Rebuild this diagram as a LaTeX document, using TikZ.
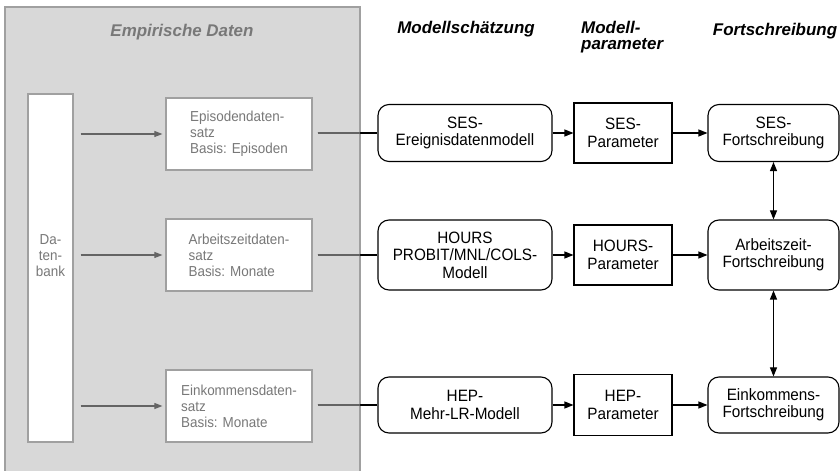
\documentclass[tikz,border=0pt]{standalone}
\usepackage{fontspec}
\setmainfont{Liberation Sans}
\newfontfamily\narrowfont{Liberation Sans}[FakeStretch=0.93]
\usetikzlibrary{arrows.meta,calc}
\definecolor{panelfill}{RGB}{216,216,216}
\definecolor{panelline}{RGB}{160,160,160}
\definecolor{grtext}{RGB}{120,120,120}
\definecolor{grline}{RGB}{100,100,100}
\begin{document}
\begin{tikzpicture}[x=1bp,y=-1bp,
 txt/.style={font=\narrowfont\fontsize{16.5}{17.5}\selectfont, align=center, inner sep=0pt},
 model/.style={txt, draw, line width=1.1bp, rounded corners=11bp, minimum width=174bp},
 param/.style={txt, draw, line width=1.1bp, minimum width=98bp, minimum height=60bp},
 fort/.style={model, minimum width=131bp},
 gbox/.style={draw=panelline, fill=white, line width=1.3bp, text=grtext, font=\narrowfont\fontsize{14.5}{16}\selectfont, align=left, minimum width=146bp, minimum height=72bp, inner sep=0pt},
 gtext/.style={text=grtext, font=\narrowfont\fontsize{14.5}{16}\selectfont, align=center, inner sep=0pt},
 head/.style={font=\fontsize{17}{16}\selectfont\bfseries\itshape, inner sep=0pt},
 arr/.style={line width=1.1bp, -{Triangle[length=9bp,width=7bp]}},
 darr/.style={line width=1.1bp, {Triangle[length=9bp,width=7bp]}-{Triangle[length=9bp,width=7bp]}},
 garr/.style={draw=grline, line width=1.1bp, -{Triangle[length=8bp,width=6bp]}},
]
\useasboundingbox (0,0) rectangle (840,471);
% panel
\draw[fill=panelfill, draw=panelline, line width=1.3bp] (5,7) rectangle (360,480);
\node[head, text=grtext] (emp) at (182,32) {Empirische Daten};

% headers
\node[head] (h1) at (466,29) {Modellschätzung};
\node[head, align=left, anchor=west] (h2) at (581,37) {Modell-\\parameter};
\node[head] (h3) at (775,31) {Fortschreibung};

% left column
\node[draw=panelline, fill=white, line width=1.3bp, minimum width=45bp, minimum height=348bp, inner sep=0pt] (db) at (50.5,268) {};
\node[gtext] (dbt) at (50.5,256) {Da-\\ten-\\bank};
\node[gbox] (epi) at (239,134) {Episodendaten-\\satz\\Basis: Episoden};
\node[gbox] (arb) at (239,255) {Arbeitszeitdaten-\\satz\\Basis: Monate};
\node[gbox] (ein) at (239,406) {Einkommensdaten-\\satz\\Basis: Monate};

% model column
\node[model, minimum height=57bp] (sesm) at (465,133) {SES-\\Ereignisdatenmodell};
\node[model, minimum height=70bp] (hm) at (465,255) {HOURS\\PROBIT/MNL/COLS-\\Modell};
\node[model, minimum height=56bp] (hepm) at (465,405) {HEP-\\Mehr-LR-Modell};

\node[param] (sesp) at (623,133) {SES-\\Parameter};
\node[param] (hp) at (623,255) {HOURS-\\Parameter};
\node[param, minimum height=61bp] (hepp) at (623,405) {HEP-\\Parameter};

\node[fort, minimum height=57bp] (sesf) at (773.5,133) {SES-\\Fortschreibung};
\node[fort, minimum height=70bp] (af) at (773.5,255) {Arbeitszeit-\\Fortschreibung};
\node[fort, minimum height=56bp] (ef) at (773.5,405) {Einkommens-\\Fortschreibung};

% gray arrows from database
\draw[garr, shorten <=7bp, shorten >=3bp] (db.east |- epi.west) -- (epi.west);
\draw[garr, shorten <=7bp, shorten >=3bp] (db.east |- arb.west) -- (arb.west);
\draw[garr, shorten <=7bp, shorten >=3bp] (db.east |- ein.west) -- (ein.west);

% connectors to models (black outside, gray inside panel)
\foreach \a/\b in {epi/sesm, arb/hm, ein/hepm}{
  \draw[line width=1.1bp, shorten <=5bp] (\a.east |- \b.west) -- (\b.west);
  \begin{scope}
    \clip (0,0) rectangle (360,471);
    \draw[grline, line width=1.2bp, shorten <=5bp] (\a.east |- \b.west) -- (\b.west);
  \end{scope}
}

\draw[arr] (sesm) -- (sesp);
\draw[arr] (hm) -- (hp);
\draw[arr] (hepm) -- (hepp);
\draw[arr] (sesp) -- (sesf);
\draw[arr] (hp) -- (af);
\draw[arr] (hepp) -- (ef);
\draw[darr] (sesf) -- (af);
\draw[darr] (af) -- (ef);
\end{tikzpicture}
\end{document}
